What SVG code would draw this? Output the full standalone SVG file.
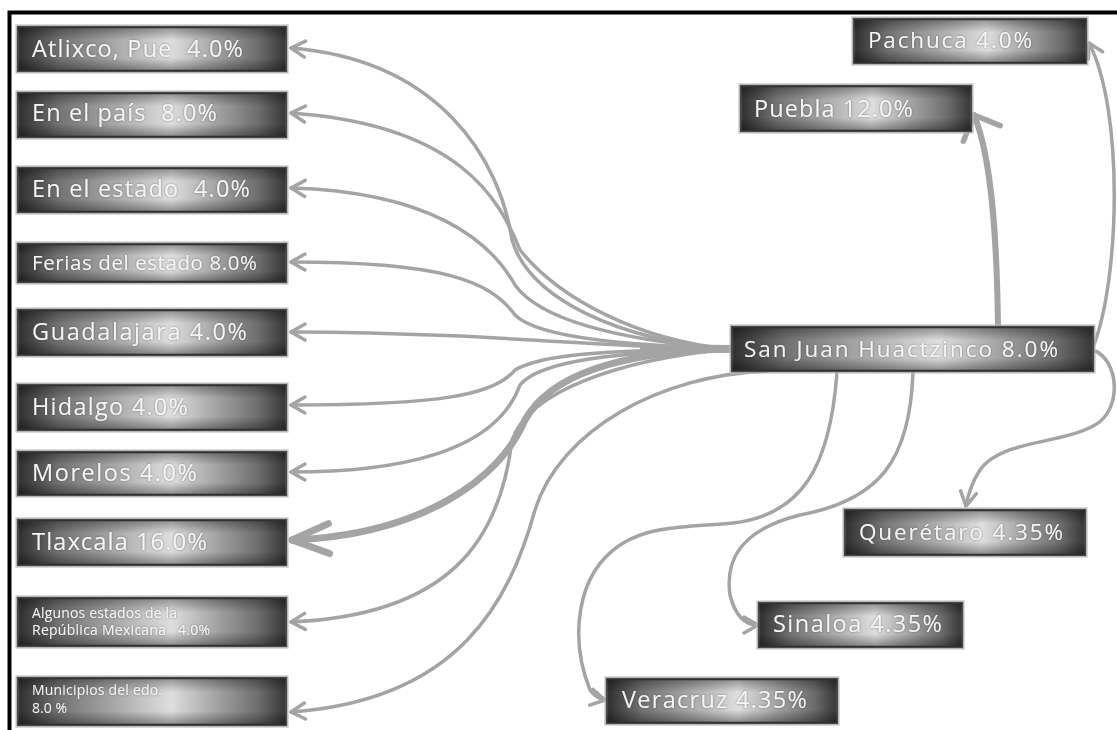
<svg xmlns="http://www.w3.org/2000/svg" width="1117" height="730" viewBox="0 0 1117 730">
  <defs>
    <style>
      .frame { stroke: #000; stroke-width: 4; fill: none; }
      .box { fill: url(#boxH); stroke: #4a4a4a; stroke-width: 2.5; }
      .shade { fill: url(#boxV); stroke: none; }
      .halo { fill: none; stroke: #c4c4c4; stroke-width: 1.2; }
      .lbl { font-family: "Open Sans", "Noto Sans", "DejaVu Sans", sans-serif; fill: #f4f4f4; white-space: pre; filter: url(#glow); }
      .wire { fill: none; stroke: #a4a4a4; stroke-width: 3.5; stroke-linecap: round; marker-end: url(#arr); }
      .wire-thick { fill: none; stroke: #a4a4a4; stroke-width: 7; stroke-linecap: round; marker-end: url(#arrBig); }
      .wire-up { fill: none; stroke: #a4a4a4; stroke-width: 6; stroke-linecap: round; marker-end: url(#arrMid); }
      .bundle { fill: none; stroke: #a4a4a4; stroke-width: 8; stroke-linecap: butt; }
    </style>
    <linearGradient id="boxH" x1="0" y1="0" x2="1" y2="0">
      <stop offset="0" stop-color="#2e2e2e"/>
      <stop offset="0.15" stop-color="#727272"/>
      <stop offset="0.57" stop-color="#dedede"/>
      <stop offset="0.9" stop-color="#6c6c6c"/>
      <stop offset="1" stop-color="#363636"/>
    </linearGradient>
    <linearGradient id="boxV" x1="0" y1="0" x2="0" y2="1">
      <stop offset="0" stop-color="#000" stop-opacity="0.35"/>
      <stop offset="0.3" stop-color="#000" stop-opacity="0"/>
      <stop offset="0.7" stop-color="#000" stop-opacity="0"/>
      <stop offset="1" stop-color="#000" stop-opacity="0.38"/>
    </linearGradient>
    <filter id="glow" x="-5%" y="-30%" width="110%" height="160%">
      <feDropShadow dx="0" dy="0" stdDeviation="1" flood-color="#3a3a3a" flood-opacity="0.55"/>
    </filter>
    <marker id="arr" markerUnits="userSpaceOnUse" viewBox="-18 -12 22 24" refX="0" refY="0" markerWidth="22" markerHeight="24" orient="auto">
      <path d="M-14,-8 L0,0 L-14,8" fill="none" stroke="#a4a4a4" stroke-width="3.5" stroke-linecap="round" stroke-linejoin="round"/>
    </marker>
    <marker id="arrBig" markerUnits="userSpaceOnUse" viewBox="-44 -22 50 44" refX="0" refY="0" markerWidth="50" markerHeight="44" orient="auto">
      <path d="M-37,-15 L0,0 L-37,15" fill="none" stroke="#a4a4a4" stroke-width="7" stroke-linecap="round" stroke-linejoin="round"/>
    </marker>
    <marker id="arrMid" markerUnits="userSpaceOnUse" viewBox="-30 -26 36 52" refX="0" refY="0" markerWidth="36" markerHeight="52" orient="auto">
      <path d="M-20,-20 L0,0 L-20,20" fill="none" stroke="#a4a4a4" stroke-width="5.5" stroke-linecap="round" stroke-linejoin="round"/>
    </marker>
  </defs>

  <rect width="1117" height="730" fill="#fff"/>
  <!-- page frame: top and left rules -->
  <path class="frame" d="M9.5,730 V12.5 H1117"/>

  <g id="connectors">
    <!-- hub stub entering San Juan Huactzinco -->
    <path class="bundle" d="M640,348 L734,349"/>
    <!-- fan to the left column -->
    <path class="wire" d="M728,349 C620,340 530,300 512,240 C500,160 440,60 291,48"/>
    <path class="wire" d="M728,349 C640,340 560,300 520,250 C500,200 460,125 291,113"/>
    <path class="wire" d="M728,349 C620,340 540,320 515,285 C490,240 430,192 291,188"/>
    <path class="wire" d="M728,349 C640,345 540,340 515,315 C490,280 440,262 291,262"/>
    <path class="wire" d="M728,349 C600,348 500,333 291,332"/>
    <path class="wire" d="M728,349 C600,350 540,355 515,370 C495,395 440,405 291,405"/>
    <path class="wire" d="M728,349 C620,352 540,360 520,385 C500,440 430,472 291,472"/>
    <path class="wire-thick" d="M728,349 C620,352 550,375 525,420 C500,480 420,535 292,540"/>
    <path class="wire" d="M728,349 C620,360 530,390 512,440 C500,540 450,615 291,622"/>
    <path class="wire" d="M767,371 C660,375 560,430 535,510 C510,600 460,700 291,712"/>
    <!-- right side -->
    <path class="wire-up" d="M998,326 C997,250 993,160 974,115"/>
    <path class="wire" d="M1093,347 C1120,280 1124,110 1089,43"/>
    <path class="wire" d="M1093,350 C1120,360 1122,410 1095,425 C1060,445 1000,440 980,470 C972,482 968,495 966,506"/>
    <path class="wire" d="M913,372 C910,460 880,500 800,515 C740,530 725,560 730,595 C735,615 745,625 758,625"/>
    <path class="wire" d="M837,372 C830,470 800,515 733,523 C690,527 650,525 620,545 C575,575 570,640 590,690 C595,697 600,699 605,700"/>
  </g>

  <g id="atlixco">
    <rect class="halo" x="16" y="25" width="272" height="48"/>
    <rect class="box" x="18" y="27" width="268" height="44"/>
    <rect class="shade" x="18" y="27" width="268" height="44"/>
    <text class="lbl" x="32" y="57" font-size="23.5" textLength="211" lengthAdjust="spacing">Atlixco, Pue  4.0%</text>
  </g>
  <g id="en-el-pais">
    <rect class="halo" x="16" y="91" width="272" height="48"/>
    <rect class="box" x="18" y="93" width="268" height="44"/>
    <rect class="shade" x="18" y="93" width="268" height="44"/>
    <text class="lbl" x="32" y="121" font-size="23.5" textLength="185" lengthAdjust="spacing">En el país  8.0%</text>
  </g>
  <g id="en-el-estado">
    <rect class="halo" x="16" y="166" width="272" height="48"/>
    <rect class="box" x="18" y="168" width="268" height="44"/>
    <rect class="shade" x="18" y="168" width="268" height="44"/>
    <text class="lbl" x="32" y="197" font-size="23.5" textLength="218" lengthAdjust="spacing">En el estado  4.0%</text>
  </g>
  <g id="ferias">
    <rect class="halo" x="16" y="242" width="272" height="42"/>
    <rect class="box" x="18" y="244" width="268" height="38"/>
    <rect class="shade" x="18" y="244" width="268" height="38"/>
    <text class="lbl" x="32" y="270" font-size="20.5" textLength="225" lengthAdjust="spacing">Ferias del estado 8.0%</text>
  </g>
  <g id="guadalajara">
    <rect class="halo" x="16" y="308" width="272" height="49"/>
    <rect class="box" x="18" y="310" width="268" height="45"/>
    <rect class="shade" x="18" y="310" width="268" height="45"/>
    <text class="lbl" x="32" y="340" font-size="23.5" textLength="215" lengthAdjust="spacing">Guadalajara 4.0%</text>
  </g>
  <g id="hidalgo">
    <rect class="halo" x="16" y="383" width="272" height="49"/>
    <rect class="box" x="18" y="385" width="268" height="45"/>
    <rect class="shade" x="18" y="385" width="268" height="45"/>
    <text class="lbl" x="32" y="415" font-size="23.5" textLength="156" lengthAdjust="spacing">Hidalgo 4.0%</text>
  </g>
  <g id="morelos">
    <rect class="halo" x="16" y="450" width="272" height="47"/>
    <rect class="box" x="18" y="452" width="268" height="43"/>
    <rect class="shade" x="18" y="452" width="268" height="43"/>
    <text class="lbl" x="32" y="481" font-size="23.5" textLength="165" lengthAdjust="spacing">Morelos 4.0%</text>
  </g>
  <g id="tlaxcala">
    <rect class="halo" x="16" y="518" width="272" height="49"/>
    <rect class="box" x="18" y="520" width="268" height="45"/>
    <rect class="shade" x="18" y="520" width="268" height="45"/>
    <text class="lbl" x="32" y="550" font-size="24" textLength="175" lengthAdjust="spacing">Tlaxcala 16.0%</text>
  </g>
  <g id="algunos-estados">
    <rect class="halo" x="16" y="596" width="272" height="52"/>
    <rect class="box" x="18" y="598" width="268" height="48"/>
    <rect class="shade" x="18" y="598" width="268" height="48"/>
    <text class="lbl" x="32" y="618" font-size="14" textLength="145" lengthAdjust="spacing">Algunos estados de la</text>
    <text class="lbl" x="32" y="635" font-size="14" textLength="178" lengthAdjust="spacing">República Mexicana   4.0%</text>
  </g>
  <g id="municipios">
    <rect class="halo" x="16" y="676" width="272" height="51"/>
    <rect class="box" x="18" y="678" width="268" height="47"/>
    <rect class="shade" x="18" y="678" width="268" height="47"/>
    <text class="lbl" x="32" y="695" font-size="14" textLength="130" lengthAdjust="spacing">Municipios del edo.</text>
    <text class="lbl" x="32" y="713" font-size="14" textLength="35" lengthAdjust="spacing">8.0 %</text>
  </g>

  <g id="pachuca">
    <rect class="halo" x="852" y="17" width="236" height="48"/>
    <rect class="box" x="854" y="19" width="232" height="44"/>
    <rect class="shade" x="854" y="19" width="232" height="44"/>
    <text class="lbl" x="868" y="48" font-size="22.5" textLength="164" lengthAdjust="spacing">Pachuca 4.0%</text>
  </g>
  <g id="puebla">
    <rect class="halo" x="739" y="84" width="234" height="49"/>
    <rect class="box" x="741" y="86" width="230" height="45"/>
    <rect class="shade" x="741" y="86" width="230" height="45"/>
    <text class="lbl" x="754" y="117" font-size="23.5" textLength="159" lengthAdjust="spacing">Puebla 12.0%</text>
  </g>
  <g id="san-juan-huactzinco">
    <rect class="halo" x="730" y="325" width="365" height="48"/>
    <rect class="box" x="732" y="327" width="361" height="44"/>
    <rect class="shade" x="732" y="327" width="361" height="44"/>
    <text class="lbl" x="744" y="357" font-size="22.5" textLength="314" lengthAdjust="spacing">San Juan Huactzinco 8.0%</text>
  </g>
  <g id="queretaro">
    <rect class="halo" x="843" y="508" width="244" height="49"/>
    <rect class="box" x="845" y="510" width="240" height="45"/>
    <rect class="shade" x="845" y="510" width="240" height="45"/>
    <text class="lbl" x="859" y="540" font-size="22.5" textLength="204" lengthAdjust="spacing">Querétaro 4.35%</text>
  </g>
  <g id="sinaloa">
    <rect class="halo" x="757" y="601" width="207" height="48"/>
    <rect class="box" x="759" y="603" width="203" height="44"/>
    <rect class="shade" x="759" y="603" width="203" height="44"/>
    <text class="lbl" x="773" y="632" font-size="23.5" textLength="169" lengthAdjust="spacing">Sinaloa 4.35%</text>
  </g>
  <g id="veracruz">
    <rect class="halo" x="605" y="677" width="234" height="48"/>
    <rect class="box" x="607" y="679" width="230" height="44"/>
    <rect class="shade" x="607" y="679" width="230" height="44"/>
    <text class="lbl" x="622" y="708" font-size="23.5" textLength="185" lengthAdjust="spacing">Veracruz 4.35%</text>
  </g>
</svg>
